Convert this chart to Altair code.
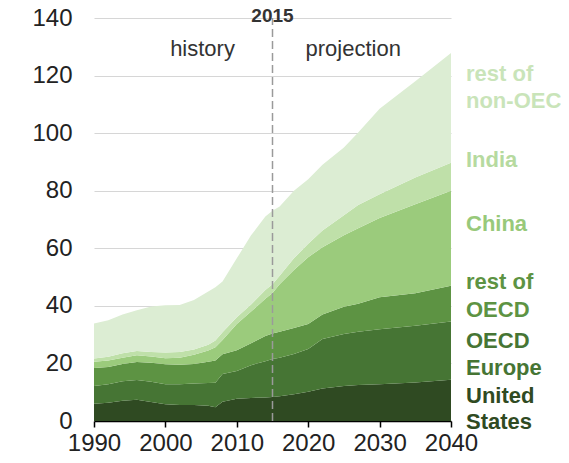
import altair as alt
import pandas as pd

# ---- data ----
years = [1990, 1992, 1994, 1996, 1998, 2000, 2002, 2004, 2006, 2007, 2008, 2010,
         2012, 2014, 2015, 2016, 2018, 2020, 2022, 2025, 2027, 2030, 2035, 2040]
united_states = [6.0, 6.3, 7.0, 7.4, 6.6, 5.8, 5.6, 5.6, 5.3, 4.8, 6.7, 7.7,
                 8.0, 8.2, 8.3, 8.6, 9.3, 10.2, 11.3, 12.2, 12.5, 12.8, 13.4, 14.3]
oecd_europe = [6.2, 6.5, 6.8, 6.8, 7.0, 7.0, 7.2, 7.4, 7.9, 8.5, 9.6, 9.7,
               11.4, 12.6, 13.2, 13.4, 14.0, 14.8, 17.2, 18.0, 18.5, 19.1, 19.7, 20.3]
rest_of_oecd = [6.2, 6.0, 6.0, 6.3, 6.6, 6.9, 6.7, 6.8, 7.4, 7.7, 6.9, 7.2,
                7.6, 8.7, 8.9, 9.0, 9.0, 8.7, 8.5, 9.5, 9.7, 11.1, 11.3, 12.4]
china = [2.2, 2.2, 2.2, 2.3, 2.2, 2.1, 2.5, 3.2, 3.9, 4.6, 4.9, 9.1,
         11.0, 13.0, 14.1, 16.5, 20.2, 23.2, 23.4, 24.8, 26.3, 27.5, 30.9, 33.0]
india = [1.1, 1.3, 1.5, 1.5, 1.6, 2.0, 2.0, 1.8, 2.0, 2.4, 2.7, 2.3,
         2.5, 3.0, 3.0, 3.0, 4.0, 4.7, 5.8, 7.0, 8.0, 8.3, 9.3, 9.7]
rest_of_non_oecd = [12.2, 12.7, 13.5, 14.2, 15.8, 16.4, 16.3, 17.2, 18.5, 18.5, 17.7, 20.5,
                    24.0, 25.5, 25.5, 24.0, 23.5, 22.4, 22.8, 23.5, 25.2, 29.7, 33.4, 38.1]

series_names = ["United States", "OECD Europe", "rest of OECD",
                "China", "India", "rest of non-OECD"]
series_values = [united_states, oecd_europe, rest_of_oecd, china, india, rest_of_non_oecd]
area_colors = ["#2f4a22", "#467534", "#5d9343", "#9bcb7c", "#bfe0a9", "#dcedd3"]
label_colors = ["#2f4a22", "#467534", "#5d9343", "#98c97a", "#b6da9f", "#c9e4b9"]

y_ticks = [0, 20, 40, 60, 80, 100, 120, 140]
x_ticks = [1990, 1995, 2000, 2005, 2010, 2015, 2020, 2025, 2030, 2035, 2040]

# right-hand labels: text line, vertical position (axis units), series
label_lines = ["rest of", "non-OECD", "India", "China", "rest of", "OECD",
               "OECD", "Europe", "United", "States"]
label_y = [120.6, 111.1, 90.6, 68.6, 48.4, 38.7, 27.9, 18.5, 8.7, -0.3]
label_series = ["rest of non-OECD", "rest of non-OECD", "India", "China",
                "rest of OECD", "rest of OECD", "OECD Europe", "OECD Europe",
                "United States", "United States"]
label_x = 2042.1

period_text = ["history", "projection"]
period_x = [2005.2, 2026.3]
period_y = [129.3, 129.3]

split_year = 2015

# ---- tables ----
rows = []
for i, (name, vals) in enumerate(zip(series_names, series_values)):
    for yr, v in zip(years, vals):
        rows.append({"year": yr, "value": v, "series": name, "ord": i})
df = pd.DataFrame(rows)
labels_df = pd.DataFrame({"text": label_lines, "y": label_y,
                          "series": label_series, "x": [label_x] * len(label_lines)})
period_df = pd.DataFrame({"text": period_text, "x": period_x, "y": period_y})

FONT = "Liberation Sans"

x_scale = alt.Scale(domain=[1990, 2040], nice=False, zero=False)
y_scale = alt.Scale(domain=[0, 140], nice=False)

areas = alt.Chart(df).mark_area(interpolate="linear").encode(
    x=alt.X("year:Q", scale=x_scale,
            axis=alt.Axis(title=None, values=x_ticks, grid=False,
                          labelExpr="datum.value % 10 == 0 ? datum.value : ''",
                          labelFlush=False, labelOverlap=False, format="d",
                          domainColor="#000000", domainWidth=1.5,
                          tickColor="#000000", tickWidth=1.5, tickSize=6,
                          labelPadding=4, labelFontSize=24, labelColor="#222222",
                          labelFont=FONT)),
    y=alt.Y("value:Q", stack="zero", scale=y_scale,
            axis=alt.Axis(title=None, values=y_ticks, domain=False, ticks=False,
                          labelPadding=22, labelFontSize=24, labelColor="#222222",
                          labelFont=FONT, labelOverlap=False,
                          gridColor="#d6d6d6", gridWidth=1.2)),
    color=alt.Color("series:N", scale=alt.Scale(domain=series_names, range=area_colors),
                    legend=None),
    order=alt.Order("ord:Q", sort="ascending"),
)

rule = alt.Chart(pd.DataFrame({"x": [split_year], "y0": [0], "y1": [140]})).mark_rule(
    color="#9a9a9a", strokeWidth=1.5, strokeDash=[8, 4]
).encode(x=alt.X("x:Q", scale=x_scale), y=alt.Y("y0:Q", scale=y_scale), y2="y1:Q")

split_label = alt.Chart(pd.DataFrame({"x": [split_year], "y": [140], "t": [str(split_year)]})).mark_text(
    font=FONT, fontSize=19, fontWeight="bold", color="#333333",
    baseline="alphabetic", align="center", dy=4
).encode(x=alt.X("x:Q", scale=x_scale), y=alt.Y("y:Q", scale=y_scale), text="t:N")

periods = alt.Chart(period_df).mark_text(
    font=FONT, fontSize=22, color="#333333", baseline="middle", align="center"
).encode(x=alt.X("x:Q", scale=x_scale), y=alt.Y("y:Q", scale=y_scale), text="text:N")

right_labels = alt.Chart(labels_df).mark_text(
    font=FONT, fontSize=22, fontWeight="bold", baseline="middle", align="left"
).encode(
    x=alt.X("x:Q", scale=x_scale), y=alt.Y("y:Q", scale=y_scale), text="text:N",
    fill=alt.Fill("series:N", scale=alt.Scale(domain=series_names, range=label_colors),
                  legend=None),
)

chart = alt.layer(areas, rule, split_label, periods, right_labels).properties(
    width=357, height=403,
    autosize=alt.AutoSizeParams(type="none"),
    padding={"left": 86, "top": 10, "right": 110, "bottom": 34},
).configure_view(stroke=None).resolve_scale(fill="independent")

chart.save("out.html", embed_options={"renderer": "svg", "actions": False})
